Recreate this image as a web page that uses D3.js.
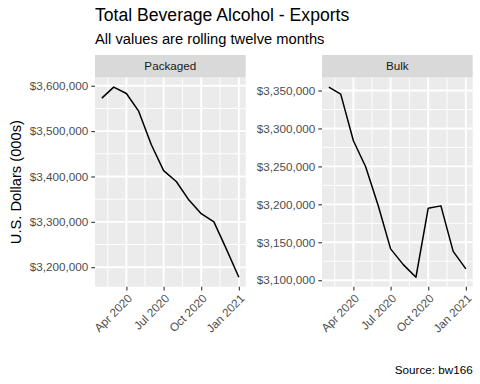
<!DOCTYPE html>
<html>
<head>
<meta charset="utf-8">
<script src="https://cdn.jsdelivr.net/npm/d3@7"></script>
<style>
  body { margin: 0; background: #fff; }
  svg { display: block; font-family: "Liberation Sans", Arial, sans-serif; }
</style>
</head>
<body>
<div id="chart"></div>
<script>
// Monthly rolling-twelve-month values, Feb 2020 .. Jan 2021
const months = ['2020-02-01', '2020-03-01', '2020-04-01', '2020-05-01', '2020-06-01', '2020-07-01',
  '2020-08-01', '2020-09-01', '2020-10-01', '2020-11-01', '2020-12-01', '2021-01-01'];
const packaged = [3572700, 3597000, 3583000, 3544000, 3470000, 3413000,
  3389000, 3348000, 3318000, 3300000, 3241000, 3178000];
const bulk = [3354500, 3345300, 3283800, 3249600, 3197800, 3141300,
  3120600, 3104000, 3195000, 3198000, 3138000, 3115000];

const facetNames = ['Packaged', 'Bulk'];
const packagedTicks = [3200000, 3300000, 3400000, 3500000, 3600000];
const bulkTicks = [3100000, 3150000, 3200000, 3250000, 3300000, 3350000];
const dateBreaks = ['2020-01-01', '2020-04-01', '2020-07-01', '2020-10-01', '2021-01-01', '2021-04-01'];

const title = 'Total Beverage Alcohol - Exports';
const subtitle = 'All values are rolling twelve months';
const yTitle = 'U.S. Dollars (000s)';
const caption = 'Source: bw166';

const W = 480, H = 384;
const parse = d3.utcParse('%Y-%m-%d');
const dates = months.map(parse);
const breaks = dateBreaks.map(parse);

const panels = [
  { name: facetNames[0], values: packaged, ticks: packagedTicks, left: 95, right: 245.7 },
  { name: facetNames[1], values: bulk, ticks: bulkTicks, left: 322, right: 472.7 }
];
const stripTop = 55, panelTop = 77.6, panelBottom = 286.7;

const svg = d3.select('#chart').append('svg')
  .attr('width', W).attr('height', H);

svg.append('rect').attr('width', W).attr('height', H).attr('fill', '#fff');

// ggplot-like 5% expansion
function expand(ext) {
  const d = ext[1] - ext[0];
  return [ext[0] - d * 0.05, ext[1] + d * 0.05];
}

const xExt = expand(d3.extent(dates, d => +d)).map(v => new Date(v));
const fmtY = d3.format('$,.0f');
const fmtX = d3.utcFormat('%b %Y');
const line = '#000';

panels.forEach(p => {
  const x = d3.scaleUtc().domain(xExt).range([p.left, p.right]);
  const y = d3.scaleLinear().domain(expand(d3.extent(p.values))).range([panelBottom, panelTop]);

  const xMajor = breaks.filter(d => d >= xExt[0] && d <= xExt[1]);
  const xMinor = d3.pairs(breaks).map(([a, b]) => new Date((+a + +b) / 2))
    .filter(d => d >= xExt[0] && d <= xExt[1]);
  const step = p.ticks[1] - p.ticks[0];
  const yMinor = [p.ticks[0] - step, ...p.ticks].map(v => v + step / 2)
    .filter(v => v >= y.domain()[0] && v <= y.domain()[1]);

  const g = svg.append('g');

  // strip
  g.append('rect')
    .attr('x', p.left).attr('y', stripTop)
    .attr('width', p.right - p.left).attr('height', panelTop - stripTop)
    .attr('fill', '#d9d9d9');
  g.append('text')
    .attr('x', (p.left + p.right) / 2).attr('y', (stripTop + panelTop) / 2)
    .attr('dy', '0.35em')
    .attr('text-anchor', 'middle')
    .attr('font-size', 11.7)
    .attr('fill', '#1a1a1a')
    .text(p.name);

  // panel background
  g.append('rect')
    .attr('x', p.left).attr('y', panelTop)
    .attr('width', p.right - p.left).attr('height', panelBottom - panelTop)
    .attr('fill', '#ebebeb');

  // grid
  g.selectAll('.ymin').data(yMinor).enter().append('line')
    .attr('x1', p.left).attr('x2', p.right)
    .attr('y1', d => y(d)).attr('y2', d => y(d))
    .attr('stroke', '#fff').attr('stroke-width', 0.95);
  g.selectAll('.xmin').data(xMinor).enter().append('line')
    .attr('y1', panelTop).attr('y2', panelBottom)
    .attr('x1', d => x(d)).attr('x2', d => x(d))
    .attr('stroke', '#fff').attr('stroke-width', 0.95);
  g.selectAll('.ymaj').data(p.ticks).enter().append('line')
    .attr('x1', p.left).attr('x2', p.right)
    .attr('y1', d => y(d)).attr('y2', d => y(d))
    .attr('stroke', '#fff').attr('stroke-width', 1.9);
  g.selectAll('.xmaj').data(xMajor).enter().append('line')
    .attr('y1', panelTop).attr('y2', panelBottom)
    .attr('x1', d => x(d)).attr('x2', d => x(d))
    .attr('stroke', '#fff').attr('stroke-width', 1.9);

  // series
  g.append('path')
    .datum(p.values.map((v, i) => [dates[i], v]))
    .attr('fill', 'none')
    .attr('stroke', line)
    .attr('stroke-width', 1.5)
    .attr('stroke-linejoin', 'round')
    .attr('d', d3.line().x(d => x(d[0])).y(d => y(d[1])));

  // y axis
  const yAxis = g.append('g')
    .attr('transform', `translate(${p.left},0)`)
    .call(d3.axisLeft(y).tickValues(p.ticks).tickFormat(fmtY).tickSize(3.7).tickPadding(3));
  yAxis.select('.domain').remove();
  yAxis.selectAll('.tick line').attr('stroke', '#333').attr('stroke-width', 1.1);
  yAxis.selectAll('.tick text')
    .attr('fill', '#4d4d4d').attr('font-size', 11.7)
    .attr('font-family', '"Liberation Sans", Arial, sans-serif');

  // x axis
  const xAxis = g.append('g')
    .attr('transform', `translate(0,${panelBottom})`)
    .call(d3.axisBottom(x).tickValues(xMajor).tickFormat(fmtX).tickSize(3.7));
  xAxis.select('.domain').remove();
  xAxis.selectAll('.tick line').attr('stroke', '#333').attr('stroke-width', 1.1);
  xAxis.selectAll('.tick text')
    .attr('fill', '#4d4d4d').attr('font-size', 11.7)
    .attr('font-family', '"Liberation Sans", Arial, sans-serif')
    .attr('text-anchor', 'end')
    .attr('y', 0).attr('dy', '0.72em')
    .attr('transform', 'translate(0,6.6) rotate(-45)');
});

// titles
svg.append('text')
  .attr('x', 95).attr('y', 20.5)
  .attr('font-size', 17.6).attr('fill', '#000')
  .text(title);
svg.append('text')
  .attr('x', 95).attr('y', 43.5)
  .attr('font-size', 14.7).attr('fill', '#000')
  .text(subtitle);
svg.append('text')
  .attr('transform', `translate(20.5,${(panelTop + panelBottom) / 2}) rotate(-90)`)
  .attr('text-anchor', 'middle')
  .attr('font-size', 14.7).attr('fill', '#000')
  .text(yTitle);
svg.append('text')
  .attr('x', 472.7).attr('y', 373.5)
  .attr('text-anchor', 'end')
  .attr('font-size', 11.7).attr('fill', '#000')
  .text(caption);
</script>
</body>
</html>
